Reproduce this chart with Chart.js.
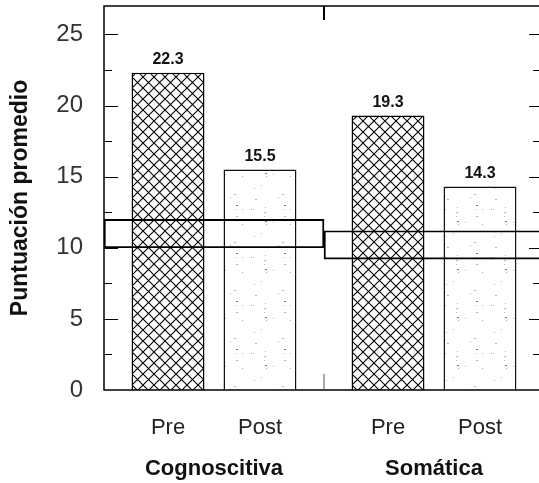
<!DOCTYPE html>
<html lang="es">
<head>
<meta charset="utf-8">
<title>Puntuación promedio</title>
<script src="https://cdn.jsdelivr.net/npm/chart.js@4.4.0/dist/chart.umd.min.js"></script>
<style>
  html, body { margin: 0; padding: 0; background: #fff; overflow: hidden; }
  canvas { display: block; }
</style>
</head>
<body>
<canvas id="chart" width="550" height="483"></canvas>
<script>
// Escalas de ansiedad y momentos de medida
const groups = ['Cognoscitiva', 'Somática'];
const phases = ['Pre', 'Post'];
const preScores = [22.3, 19.3];
const postScores = [15.5, 14.3];
// Rango normativo de cada escala (límite inferior / superior)
const normLow = [10.0, 9.2];
const normHigh = [12.0, 11.2];
const yTicks = [0, 5, 10, 15, 20, 25];

const FONT = "'Liberation Sans', Arial, sans-serif";
const canvas = document.getElementById('chart');
const ctx = canvas.getContext('2d');

// Trama cuadriculada en diagonal para las barras "Pre"
function hatchPattern() {
    const s = 11;
    const c = document.createElement('canvas');
    c.width = c.height = s;
    const g = c.getContext('2d');
    g.fillStyle = '#fff';
    g.fillRect(0, 0, s, s);
    g.strokeStyle = '#000';
    g.lineWidth = 1.1;
    g.beginPath();
    g.moveTo(-1, -1); g.lineTo(s + 1, s + 1);
    g.moveTo(s + 1, -1); g.lineTo(-1, s + 1);
    g.stroke();
    return ctx.createPattern(c, 'repeat');
}

// Punteado gris claro para las barras "Post"
function stipplePattern() {
    const s = 48;
    const c = document.createElement('canvas');
    c.width = c.height = s;
    const g = c.getContext('2d');
    g.fillStyle = '#fff';
    g.fillRect(0, 0, s, s);
    let seed = 7;
    const next = () => (seed = (seed * 16807) % 2147483647) / 2147483647;
    for (let i = 0; i < 18; i++) {
        g.fillStyle = next() < 0.4 ? '#777' : '#b0b0b0';
        g.fillRect(Math.floor(next() * s), Math.floor(next() * s), next() < 0.3 ? 2 : 1, 1);
    }
    return ctx.createPattern(c, 'repeat');
}

function line(x1, y1, x2, y2) {
    ctx.beginPath();
    ctx.moveTo(x1, y1);
    ctx.lineTo(x2, y2);
    ctx.stroke();
}

// Marco, marcas interiores, valores y etiquetas Pre/Post
const decorations = {
    id: 'decorations',
    afterDraw(chart) {
        const { chartArea: a, scales: { x, y } } = chart;
        ctx.save();
        ctx.strokeStyle = '#000';
        ctx.lineWidth = 1.5;
        ctx.strokeRect(a.left, a.top, a.right - a.left, a.bottom - a.top);

        ctx.lineWidth = 1;
        y.ticks.forEach(t => {
            const v = t.value;
            if (v <= 0 || v > 25 || (v * 2) % 5 !== 0) return;
            const py = Math.round(y.getPixelForValue(v)) + 0.5;
            const major = v % 5 === 0;
            line(a.left, py, a.left + (major ? 14 : 8), py);
            line(a.right, py, a.right - (major ? 15 : 11), py);
        });

        const sx = (x.getPixelForValue(0) + x.getPixelForValue(1)) / 2;
        ctx.lineWidth = 2;
        line(sx, a.top, sx, a.top + 14);
        ctx.lineWidth = 1;
        ctx.strokeStyle = '#555';
        line(sx, a.bottom, sx, a.bottom - 16);

        ctx.textAlign = 'center';
        [0, 1].forEach(di => {
            const meta = chart.getDatasetMeta(di);
            const values = chart.data.datasets[di].data;
            meta.data.forEach((bar, i) => {
                ctx.fillStyle = '#111';
                ctx.font = `bold 16px ${FONT}`;
                ctx.textBaseline = 'bottom';
                ctx.fillText(values[i].toFixed(1), bar.x, bar.y - 5);
                ctx.fillStyle = '#222';
                ctx.font = `22px ${FONT}`;
                ctx.textBaseline = 'middle';
                ctx.fillText(phases[di], bar.x, a.bottom + 38);
            });
        });
        ctx.restore();
    }
};

new Chart(canvas, {
    type: 'bar',
    data: {
        labels: groups,
        datasets: [
            {
                label: phases[0],
                data: preScores,
                backgroundColor: hatchPattern(),
                borderColor: '#000',
                borderWidth: 1.5,
                categoryPercentage: 0.836,
                barPercentage: 0.793,
                order: 1
            },
            {
                label: phases[1],
                data: postScores,
                backgroundColor: stipplePattern(),
                borderColor: '#111',
                borderWidth: 1.5,
                categoryPercentage: 0.836,
                barPercentage: 0.793,
                order: 1
            },
            {
                label: 'Rango normativo',
                data: normLow.map((lo, i) => [lo, normHigh[i]]),
                backgroundColor: 'rgba(0,0,0,0)',
                borderColor: '#000',
                borderWidth: 1.3,
                borderSkipped: false,
                grouped: false,
                categoryPercentage: 1,
                barPercentage: 1,
                order: 0
            }
        ]
    },
    options: {
        responsive: false,
        animation: false,
        layout: { padding: { top: 6, right: 6, left: 0, bottom: 0 } },
        plugins: {
            legend: { display: false },
            tooltip: { enabled: false }
        },
        scales: {
            x: {
                grid: { display: false },
                border: { display: false },
                ticks: {
                    padding: 58,
                    color: '#111',
                    font: { family: FONT, size: 22, weight: 'bold' }
                },
                afterFit(scale) {
                    scale.height = 93;
                    scale.paddingLeft = 0;
                    scale.paddingRight = 0;
                }
            },
            y: {
                min: 0,
                max: 27,
                grid: { display: false },
                border: { display: false },
                ticks: {
                    stepSize: 2.5,
                    padding: 13,
                    color: '#333',
                    font: { family: FONT, size: 24 },
                    callback: v => (yTicks.includes(v) ? v : '')
                },
                title: {
                    display: true,
                    text: 'Puntuación promedio',
                    color: '#111',
                    font: { family: FONT, size: 23, weight: 'bold' },
                    padding: { top: 7, bottom: 0 }
                },
                afterFit(scale) {
                    scale.width = 104;
                    scale.paddingTop = 0;
                    scale.paddingBottom = 0;
                }
            }
        }
    },
    plugins: [decorations]
});
</script>
</body>
</html>
